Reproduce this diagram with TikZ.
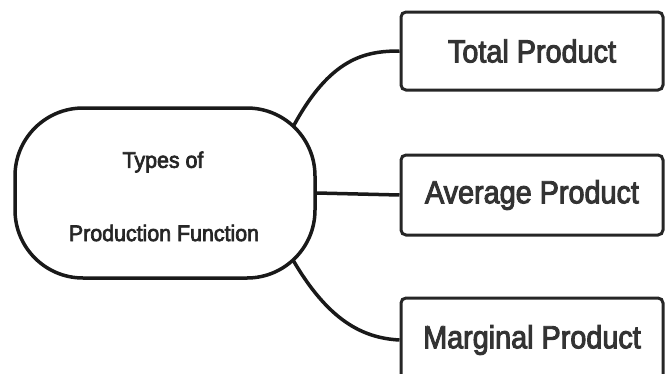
\documentclass[tikz,border=0pt]{standalone}
\usepackage{fontspec}
\setmainfont{Liberation Sans}
\newfontfamily\boxfont[FakeStretch=0.9,FakeBold=3]{Liberation Sans}
\newfontfamily\pillfont[FakeStretch=0.95,FakeBold=3]{Liberation Sans}
\begin{document}
\begin{tikzpicture}[x=1pt,y=-1pt,
  pill/.style={draw=black!90,line width=3.5pt,rounded corners=68pt,minimum width=300pt,minimum height=170pt,align=center,inner sep=0pt},
  itembox/.style={draw=black!85,line width=3pt,rounded corners=5pt,minimum width=262pt,inner sep=0pt,font=\boxfont\fontsize{32}{36}\selectfont,text=black!80},
  conn/.style={draw=black!90,line width=3.5pt}]
\useasboundingbox (0,0) rectangle (665,373);
\clip (0,0) rectangle (665,373);
\node[pill] (p) at (165,193) {};
\node[font=\pillfont\fontsize{22.5}{24}\selectfont,text=black!85] (l1) at (163,162) {Types of};
\node[font=\pillfont\fontsize{22.5}{24}\selectfont,text=black!85] (l2) at (164,233) {Production Function};
\node[itembox,minimum height=78pt] (t) at (532,51) {Total Product};
\node[itembox,minimum height=80pt] (a) at (532,195) {Average Product};
\node[itembox,minimum height=84pt] (m) at (532,340) {Marginal Product};
\coordinate (s1) at (293,127);
\coordinate (s3) at (293,260);
\draw[conn] (s1) .. controls (330,58) and (365,51) .. (t.west);
\draw[conn] (p.east) -- (a.west);
\draw[conn] (s3) .. controls (328,320) and (362,338) .. (m.west);
\end{tikzpicture}
\end{document}
